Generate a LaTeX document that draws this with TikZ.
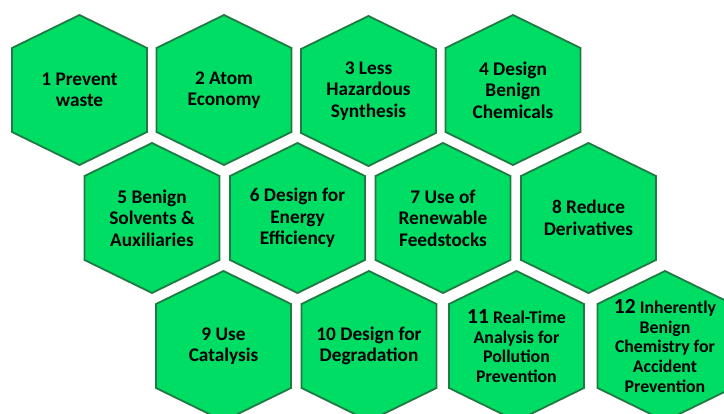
\documentclass[tikz,border=0pt]{standalone}
\usepackage{fontspec}
\setmainfont{Carlito}
\usepackage{xcolor}
\usepackage{tikz}

\definecolor{hexfill}{RGB}{0,221,101}
\definecolor{hexline}{RGB}{32,122,66}

% one honeycomb cell: [label style], name, centre x, centre y, label
\newcommand{\hexcell}[5][lb]{%
  \draw[hx] (#3,#4) ++(0,-75) -- ++(67.5,33) -- ++(0,84) -- ++(-67.5,33)
    -- ++(-67.5,-33) -- ++(0,-84) -- cycle;
  \node[#1] (#2) at (#3,#4) {#5};
}
\newcommand{\bignum}[1]{{\fontsize{21.5}{20}\selectfont #1}}

\begin{document}
\begin{tikzpicture}[
  x=1pt, y=-1pt,
  hx/.style={draw=hexline, fill=hexfill, line width=1.8pt, line join=miter},
  lb/.style={align=center, inner sep=0pt, font=\fontsize{19.3}{21.5}\selectfont\bfseries},
  lbs/.style={lb, font=\fontsize{17.8}{19.8}\selectfont\bfseries}
]
\useasboundingbox (0,0) rectangle (724,414);
\clip (0,0) rectangle (724,414);
% row 1
\hexcell{prev}{79.5}{90}{1 Prevent\\waste}
\hexcell{atom}{224}{90}{2 Atom\\Economy}
\hexcell{less}{368.5}{91}{3 Less\\Hazardous\\Synthesis}
\hexcell{chem}{513}{90}{4 Design\\Benign\\Chemicals}
% row 2
\hexcell{solv}{152}{218}{5 Benign\\Solvents \&\\Auxiliaries}
\hexcell{ener}{297.5}{218}{6 Design for\\Energy\\Efficiency}
\hexcell{feed}{443}{218}{7 Use of\\Renewable\\Feedstocks}
\hexcell{deri}{588.5}{218}{8 Reduce\\Derivatives}
% row 3
\hexcell{cata}{223.5}{346}{9 Use\\Catalysis}
\hexcell{degr}{369}{346}{10 Design for\\Degradation}
\hexcell[lbs]{poll}{516.5}{346}{\bignum{11} Real-Time\\Analysis for\\Pollution\\Prevention}
\hexcell[lbs]{acci}{665}{346}{\bignum{12} Inherently\\Benign\\Chemistry for\\Accident\\Prevention}
\end{tikzpicture}
\end{document}
